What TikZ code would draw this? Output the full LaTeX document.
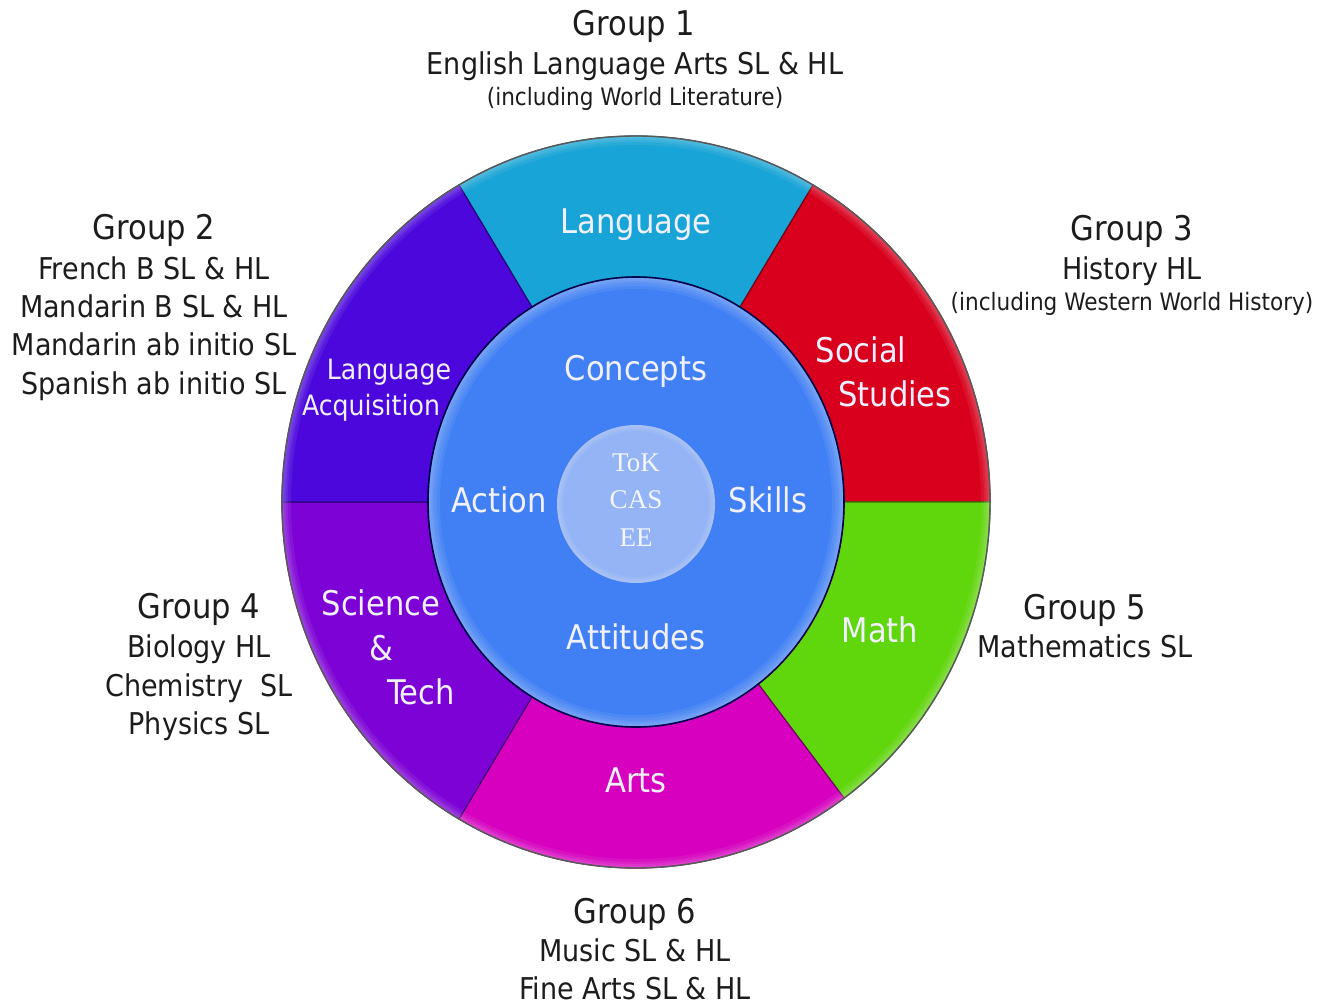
\documentclass[tikz,border=0pt]{standalone}
\usepackage{fontspec}
\setmainfont{DejaVu Sans Condensed}
\newfontfamily\tokfont{Liberation Serif}
\definecolor{cLang}{RGB}{24,164,214}
\definecolor{cSoc}{RGB}{216,0,28}
\definecolor{cMath}{RGB}{96,214,12}
\definecolor{cArts}{RGB}{214,0,190}
\definecolor{cSci}{RGB}{124,2,214}
\definecolor{cAcq}{RGB}{76,8,220}
\definecolor{cCore}{RGB}{64,128,244}
\definecolor{cHub}{RGB}{148,180,245}
\definecolor{ink}{RGB}{28,28,28}
\newcommand{\wheelseg}[3]{%
  \fill[#3, draw=#3!55!black, line width=0.6]
    (#1:208 and 225) -- (#1:354 and 366)
    arc[start angle=#1, end angle=#2, x radius=354, y radius=366]
    -- (#2:208 and 225)
    arc[start angle=#2, end angle=#1, x radius=208, y radius=225] -- cycle;}
\begin{document}
\begin{tikzpicture}[x=0.5pt,y=-0.5pt,
  grp/.style={anchor=base, text=ink, font=\fontsize{17}{20}\selectfont, inner sep=0},
  sub/.style={anchor=base, text=ink, font=\fontsize{15}{18}\selectfont, inner sep=0},
  note/.style={anchor=base, text=ink, font=\fontsize{12}{14}\selectfont, inner sep=0},
  seglbl/.style={anchor=base, text=white!94!blue, font=\fontsize{17}{20}\selectfont, inner sep=0},
  acqlbl/.style={anchor=base, text=white!94!blue, font=\fontsize{14}{16}\selectfont, inner sep=0},
  toklbl/.style={anchor=base, text=white!90!cHub, font=\tokfont\fontsize{13.5}{16}\selectfont, inner sep=0},
  glow/.style={white, opacity=0.07}]
\fill[white] (0,0) rectangle (1320,1005);
\useasboundingbox (0,0) rectangle (1320,1005);

\begin{scope}[shift={(636,502)}, yscale=-1]
  \wheelseg{60}{120}{cLang}
  \wheelseg{0}{60}{cSoc}
  \wheelseg{-54}{0}{cMath}
  \wheelseg{-120}{-54}{cArts}
  \wheelseg{-180}{-120}{cSci}
  \wheelseg{120}{180}{cAcq}
  \begin{scope}
    \clip (0,0) ellipse [x radius=354, y radius=366];
    \foreach \w in {2,4,6,9} {
      \draw[glow, line width=\w] (0,0) ellipse [x radius=354, y radius=366];
    }
  \end{scope}
  \draw[black!65, line width=0.7] (0,0) ellipse [x radius=354, y radius=366];
  % core
  \fill[cCore] (0,0) ellipse [x radius=208, y radius=225];
  \begin{scope}
    \clip (0,0) ellipse [x radius=208, y radius=225];
    \foreach \w in {2,4,6,9,12} {
      \draw[glow, line width=\w] (0,0) ellipse [x radius=208, y radius=225];
    }
  \end{scope}
  \draw[black!70!blue, line width=0.8] (0,0) ellipse [x radius=208, y radius=225];
  % hub
  \fill[cHub] (0,-2) circle [radius=79];
  \begin{scope}
    \clip (0,-2) circle [radius=79];
    \foreach \w in {2,4,6} {
      \draw[glow, line width=\w] (0,-2) circle [radius=79];
    }
  \end{scope}
\end{scope}

% segment labels
\node[seglbl] (lang) at (636,234) {Language};
\node[seglbl] (soc1) at (861,362) {Social};
\node[seglbl] (soc2) at (895,406) {Studies};
\node[seglbl] (math) at (880,642) {Math};
\node[seglbl] (arts) at (636,792) {Arts};
\node[seglbl] (sci1) at (381,615) {Science};
\node[seglbl] (sci2) at (381,660) {\&};
\node[seglbl] (sci3) at (421,704) {Tech};
\node[acqlbl] (acq1) at (389,379) {Language};
\node[acqlbl] (acq2) at (371,415) {Acquisition};
% core labels
\node[seglbl] (conc) at (636,380) {Concepts};
\node[seglbl] (act) at (499,512) {Action};
\node[seglbl] (skl) at (768,512) {Skills};
\node[seglbl] (att) at (636,649) {Attitudes};
\node[toklbl] (tok) at (636,471) {ToK};
\node[toklbl] (cas) at (636,508) {CAS};
\node[toklbl] (ee) at (636,546) {EE};

% group captions
\node[grp] (g1) at (634,36) {Group 1};
\node[sub] (g1a) at (635,75) {English Language Arts SL \& HL};
\node[note] (g1b) at (635,106) {(including World Literature)};

\node[grp] (g2) at (154,240) {Group 2};
\node[sub] (g2a) at (154,279) {French B SL \& HL};
\node[sub] (g2b) at (154,317) {Mandarin B SL \& HL};
\node[sub] (g2c) at (154,355) {Mandarin ab initio SL};
\node[sub] (g2d) at (154,394) {Spanish ab initio SL};

\node[grp] (g3) at (1132,241) {Group 3};
\node[sub] (g3a) at (1132,280) {History HL};
\node[note] (g3b) at (1132,310) {(including Western World History)};

\node[grp] (g4) at (199,618) {Group 4};
\node[sub] (g4a) at (199,657) {Biology HL};
\node[sub] (g4b) at (199,696) {Chemistry\ \ SL};
\node[sub] (g4c) at (199,734) {Physics SL};

\node[grp] (g5) at (1085,619) {Group 5};
\node[sub] (g5a) at (1085,657) {Mathematics SL};

\node[grp] (g6) at (635,923) {Group 6};
\node[sub] (g6a) at (635,961) {Music SL \& HL};
\node[sub] (g6b) at (635,999) {Fine Arts SL \& HL};
\end{tikzpicture}
\end{document}
